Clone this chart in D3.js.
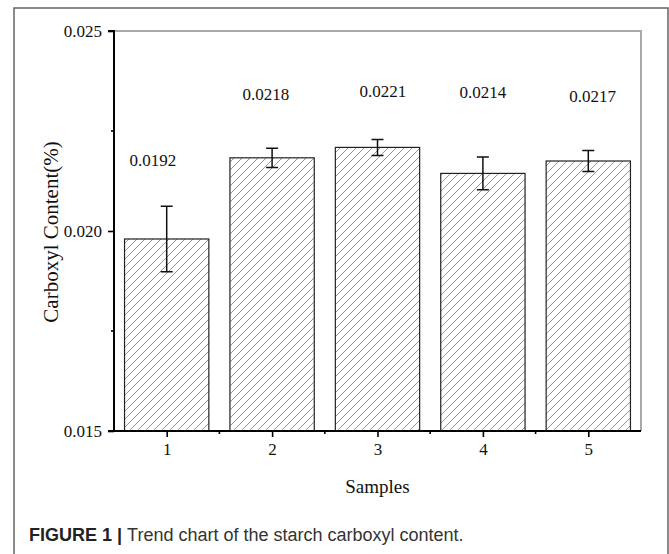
<!DOCTYPE html>
<html>
<head>
<meta charset="utf-8">
<script src="https://cdn.jsdelivr.net/npm/d3@7"></script>
<style>
  body { margin: 0; background: #fff; }
  svg { display: block; }
</style>
</head>
<body>
<div id="chart"></div>
<script>
// Data
var samples = [1, 2, 3, 4, 5];
var carboxyl = [0.01980, 0.02183, 0.02209, 0.02144, 0.02175];
var errors = [0.00082, 0.00024, 0.00020, 0.00041, 0.00026];
var labels = ["0.0192", "0.0218", "0.0221", "0.0214", "0.0217"];
// where each value label sits, in data units
var labelX = [0.87, 1.94, 3.05, 4.0, 5.04];
var labelY = [0.02163, 0.02328, 0.02335, 0.02333, 0.02323];
var yTicks = [0.015, 0.020, 0.025];

var svgWidth = 669;
var svgHeight = 554;

var svg = d3.select("#chart")
  .append("svg")
  .attr("width", svgWidth)
  .attr("height", svgHeight);

// outer figure frame (open at the bottom)
svg.append("path")
  .attr("d", "M14,560 V8 H668 V560")
  .attr("fill", "none")
  .attr("stroke", "#666")
  .attr("stroke-width", 1.5);

var x = d3.scaleLinear().domain([0.5, 5.5]).range([114, 641]);
var y = d3.scaleLinear().domain([0.015, 0.025]).range([431, 31]);

// hatch pattern for bars
var defs = svg.append("defs");
var pat = defs.append("pattern")
  .attr("id", "hatch")
  .attr("patternUnits", "userSpaceOnUse")
  .attr("width", 8)
  .attr("height", 8);
pat.append("path")
  .attr("d", "M-1,1 l2,-2 M0,8 l8,-8 M7,9 l2,-2")
  .attr("stroke", "#8a8a8a")
  .attr("stroke-width", 0.9);

// plot frame, top and right in light gray
svg.append("path")
  .attr("d", `M${x(0.5)},${y(0.025)} H${x(5.5)} V${y(0.015)}`)
  .attr("fill", "none")
  .attr("stroke", "#a8a8a8")
  .attr("stroke-width", 2);

var bw = x(1.4) - x(0.6);

// bars
svg.selectAll("rect.bar")
  .data(samples)
  .enter()
  .append("rect")
  .attr("class", "bar")
  .attr("x", (d, i) => x(d) - bw / 2)
  .attr("y", (d, i) => y(carboxyl[i]))
  .attr("width", bw)
  .attr("height", (d, i) => y(0.015) - y(carboxyl[i]))
  .attr("fill", "url(#hatch)")
  .attr("stroke", "#222")
  .attr("stroke-width", 1.2);

// error bars
var errG = svg.append("g")
  .attr("stroke", "#111")
  .attr("stroke-width", 1.5)
  .attr("fill", "none");
samples.forEach(function(d, i) {
  var cx = x(d);
  var top = y(carboxyl[i] + errors[i]);
  var bot = y(carboxyl[i] - errors[i]);
  errG.append("path")
    .attr("d", `M${cx},${top} V${bot} M${cx - 6},${top} H${cx + 6} M${cx - 6},${bot} H${cx + 6}`);
});

// value labels
svg.selectAll("text.val")
  .data(labels)
  .enter()
  .append("text")
  .attr("class", "val")
  .attr("x", (d, i) => x(labelX[i]))
  .attr("y", (d, i) => y(labelY[i]))
  .attr("text-anchor", "middle")
  .style("font-family", "'Liberation Serif', 'Times New Roman', serif")
  .style("font-size", "17px")
  .style("fill", "#111")
  .text(d => d);

// axes
var leftAxis = d3.axisLeft(y)
  .tickValues(yTicks)
  .tickFormat(d3.format(".3f"))
  .tickSize(6)
  .tickPadding(6);
var bottomAxis = d3.axisBottom(x)
  .tickValues(samples)
  .tickFormat(d3.format("d"))
  .tickSize(6)
  .tickPadding(6);

var gy = svg.append("g")
  .attr("transform", `translate(${x(0.5)},0)`)
  .call(leftAxis);
var gx = svg.append("g")
  .attr("transform", `translate(0,${y(0.015)})`)
  .call(bottomAxis);

[gy, gx].forEach(function(g) {
  g.select(".domain").attr("stroke", "#000").attr("stroke-width", 2);
  g.selectAll(".tick line").attr("stroke", "#000").attr("stroke-width", 1.6);
  g.selectAll(".tick text")
    .style("font-family", "'Liberation Serif', 'Times New Roman', serif")
    .style("font-size", "17px")
    .style("fill", "#111");
});
gy.select(".domain").attr("d", `M-6,${y(0.025)} H0 V${y(0.015)} H-6`);
gx.select(".domain").attr("d", `M${x(0.5) - 6},0 H${x(5.5)}`);

// minor ticks
svg.append("g").selectAll("line")
  .data([0.0175, 0.0225])
  .enter()
  .append("line")
  .attr("x1", x(0.5) - 3).attr("x2", x(0.5))
  .attr("y1", d => y(d)).attr("y2", d => y(d))
  .attr("stroke", "#000").attr("stroke-width", 1.6);
svg.append("g").selectAll("line")
  .data([1.5, 2.5, 3.5, 4.5])
  .enter()
  .append("line")
  .attr("x1", d => x(d)).attr("x2", d => x(d))
  .attr("y1", y(0.015)).attr("y2", y(0.015) + 3)
  .attr("stroke", "#000").attr("stroke-width", 1.6);

// axis titles
svg.append("text")
  .attr("transform", `translate(58, ${(y(0.015) + y(0.025)) / 2 + 1}) rotate(-90)`)
  .attr("text-anchor", "middle")
  .style("font-family", "'Liberation Serif', 'Times New Roman', serif")
  .style("font-size", "21px")
  .style("fill", "#111")
  .text("Carboxyl Content(%)");

svg.append("text")
  .attr("x", x(3))
  .attr("y", 493)
  .attr("text-anchor", "middle")
  .style("font-family", "'Liberation Serif', 'Times New Roman', serif")
  .style("font-size", "19px")
  .style("fill", "#111")
  .text("Samples");

// caption
var cap = svg.append("text")
  .attr("x", 29)
  .attr("y", 541)
  .style("font-family", "'Liberation Sans Narrow', 'Arial Narrow', 'Liberation Sans', sans-serif")
  .style("font-size", "18px")
  .style("fill", "#333");
cap.append("tspan")
  .style("font-weight", "bold")
  .style("fill", "#222")
  .text("FIGURE 1 | ");
cap.append("tspan")
  .text("Trend chart of the starch carboxyl content.");
</script>
</body>
</html>
